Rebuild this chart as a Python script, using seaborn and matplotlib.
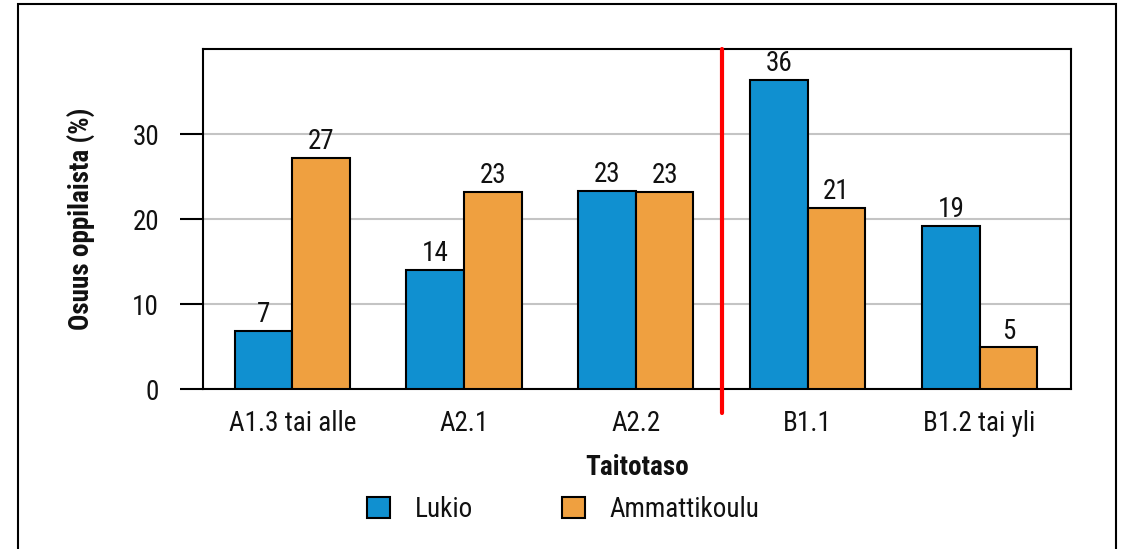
import pandas as pd
import matplotlib
matplotlib.use("Agg")
import matplotlib.pyplot as plt
from matplotlib.patches import Rectangle
import seaborn as sns

# Data
levels = ["A1.3 tai alle", "A2.1", "A2.2", "B1.1", "B1.2 tai yli"]
groups = ["Lukio", "Ammattikoulu"]
lukio = [6.8, 14.0, 23.3, 36.4, 19.2]
ammattikoulu = [27.2, 23.2, 23.2, 21.3, 4.9]
y_ticks = [0, 10, 20, 30]

colors = {"Lukio": "#1090D0", "Ammattikoulu": "#EFA040"}
FS = 19.5

sns.set_theme(style="white", rc={
    "text.color": "#111111",
    "axes.labelcolor": "#111111",
    "xtick.color": "#111111",
    "ytick.color": "#111111",
})
# narrow face first (the reference uses an Arial Narrow look), plain fallbacks after
plt.rcParams['font.family'] = ['Roboto Condensed', 'Liberation Sans', 'DejaVu Sans']

df = pd.DataFrame({
    "Taitotaso": levels * 2,
    "Ryhmä": ["Lukio"] * len(levels) + ["Ammattikoulu"] * len(levels),
    "Osuus": lukio + ammattikoulu,
})

fig = plt.figure(figsize=(11.27, 5.49), dpi=100)
ax = fig.add_axes([0.180, 0.2914, 0.770, 0.6193])

sns.barplot(data=df, x="Taitotaso", y="Osuus", hue="Ryhmä", hue_order=groups,
            order=levels, palette=colors, width=0.67, gap=0,
            edgecolor="black", linewidth=1.5, saturation=1, ax=ax, zorder=3)

for cont in ax.containers:
    ax.bar_label(cont, fmt="%.0f", padding=2, fontsize=FS, color="#111111")

ax.set_ylim(0, 40)
ax.set_xlim(-0.52, 4.53)
ax.set_yticks(y_ticks)
ax.yaxis.grid(True, color="#c4c4c4", linewidth=1.5, zorder=0)
ax.set_axisbelow(True)

for s in ax.spines.values():
    s.set_color("black")
    s.set_linewidth(1.5)

ax.tick_params(axis="y", which="major", direction="out", length=16.5, width=1.5,
               color="black", pad=15, labelsize=FS, left=True)
ax.tick_params(axis="x", length=0, pad=15, labelsize=FS)

ax.set_xlabel("Taitotaso", fontsize=FS, fontweight="bold", labelpad=12)
ax.set_ylabel("Osuus oppilaista (%)", fontsize=FS, fontweight="bold", labelpad=26)

# Red divider between A2.2 and B1.1
ax.axvline(2.5, ymin=-0.07, ymax=1.0, color="#ff0000", linewidth=3, clip_on=False, zorder=5)

# Legend centred on the figure
handles, labels = ax.get_legend_handles_labels()
ax.legend_.remove()
fig.legend(handles, labels, loc="center", bbox_to_anchor=(0.5, 0.072), ncol=2,
           frameon=False, fontsize=FS, handlelength=0.85, handleheight=0.85,
           handletextpad=0.9, columnspacing=3.3)

# Outer frame around the figure
fig.patches.append(Rectangle((0.016, -0.05), 0.974, 1.0427, transform=fig.transFigure,
                             fill=False, edgecolor="black", linewidth=1.5))

fig.savefig("out.png", dpi=100, facecolor="white")
